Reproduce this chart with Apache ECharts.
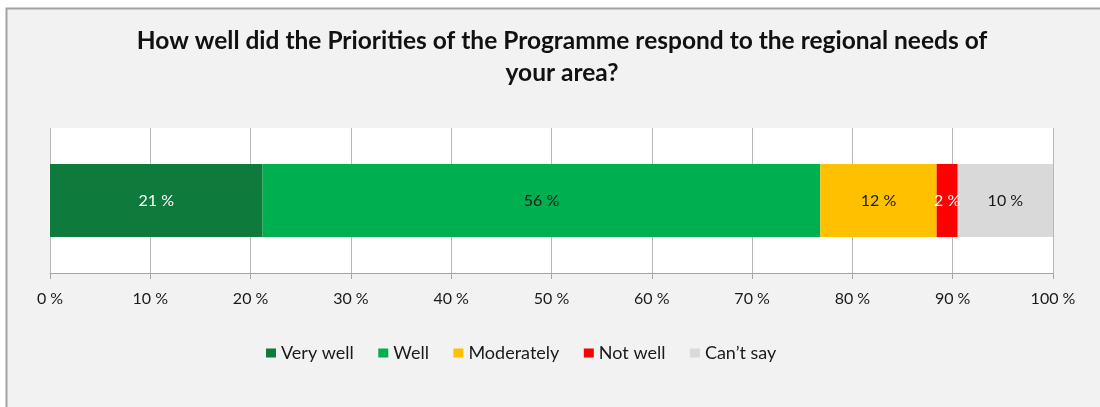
<!DOCTYPE html>
<html>
<head>
<meta charset="utf-8">
<script src="https://cdn.jsdelivr.net/npm/echarts@6/dist/echarts.min.js"></script>
<style>
  html, body { margin: 0; padding: 0; background: #ffffff; }
  #chart { width: 1100px; height: 407px; }
</style>
</head>
<body>
<div id="chart"></div>
<script>
// Survey answers, share of respondents (%)
const categories = ['Priorities'];
const answerNames = ['Very well', 'Well', 'Moderately', 'Not well', 'Can\u2019t say'];
const veryWell = [21.2];
const well = [55.6];
const moderately = [11.6];
const notWell = [2.1];
const cantSay = [9.5];
const tickLabels = ['0 %', '10 %', '20 %', '30 %', '40 %', '50 %', '60 %', '70 %', '80 %', '90 %', '100 %'];

const colors = ['#0e7a3c', '#00b050', '#ffc000', '#ff0000', '#d9d9d9'];
const labelColors = ['#ffffff', '#1a1a1a', '#1a1a1a', '#ffffff', '#1a1a1a'];
const seriesValues = [veryWell, well, moderately, notWell, cantSay];

const FONT = 'Lato, "Open Sans", sans-serif';

const chart = echarts.init(document.getElementById('chart'), null, { renderer: 'canvas' });

chart.setOption({
  backgroundColor: '#ffffff',
  animation: false,
  graphic: [{
    type: 'rect',
    z: -10,
    silent: true,
    shape: { x: 6.5, y: 8.5, width: 1110, height: 420 },
    style: { fill: '#f2f2f2', stroke: '#a3a3a3', lineWidth: 2 }
  }],
  title: {
    text: 'How well did the Priorities of the Programme respond to the regional needs of\nyour area?',
    left: 557,
    top: 20,
    textAlign: 'center',
    textStyle: {
      fontFamily: FONT,
      fontSize: 24.5,
      fontWeight: 'bold',
      color: '#111111',
      lineHeight: 32
    }
  },
  legend: {
    left: 261,
    top: 339,
    icon: 'rect',
    itemWidth: 10,
    itemHeight: 9,
    itemGap: 24.5,
    data: answerNames,
    textStyle: { fontFamily: FONT, fontSize: 18, color: '#1a1a1a' }
  },
  grid: {
    left: 50,
    right: 47,
    top: 128,
    height: 145,
    show: true,
    backgroundColor: '#ffffff',
    borderWidth: 0,
    containLabel: false
  },
  xAxis: {
    type: 'value',
    min: 0,
    max: 100,
    interval: 10,
    axisLine: { show: true, lineStyle: { color: '#a6a6a6', width: 1 } },
    axisTick: { show: true, length: 6, lineStyle: { color: '#a6a6a6' } },
    splitLine: { show: true, lineStyle: { color: '#b8b8b8', width: 1 } },
    axisLabel: {
      margin: 18,
      fontFamily: FONT,
      fontSize: 16,
      color: '#1a1a1a',
      formatter: function (v) { return tickLabels[Math.round(v / 10)]; }
    }
  },
  yAxis: {
    type: 'category',
    data: categories,
    axisLine: { show: false },
    axisTick: { show: false },
    axisLabel: { show: false }
  },
  series: answerNames.map(function (name, i) {
    return {
      name: name,
      type: 'bar',
      stack: 'total',
      barWidth: 73,
      data: seriesValues[i],
      itemStyle: { color: colors[i] },
      label: {
        show: true,
        position: 'inside',
        fontFamily: FONT,
        fontSize: 16,
        color: labelColors[i],
        formatter: function (p) { return Math.round(p.value) + ' %'; }
      }
    };
  })
});
</script>
</body>
</html>
